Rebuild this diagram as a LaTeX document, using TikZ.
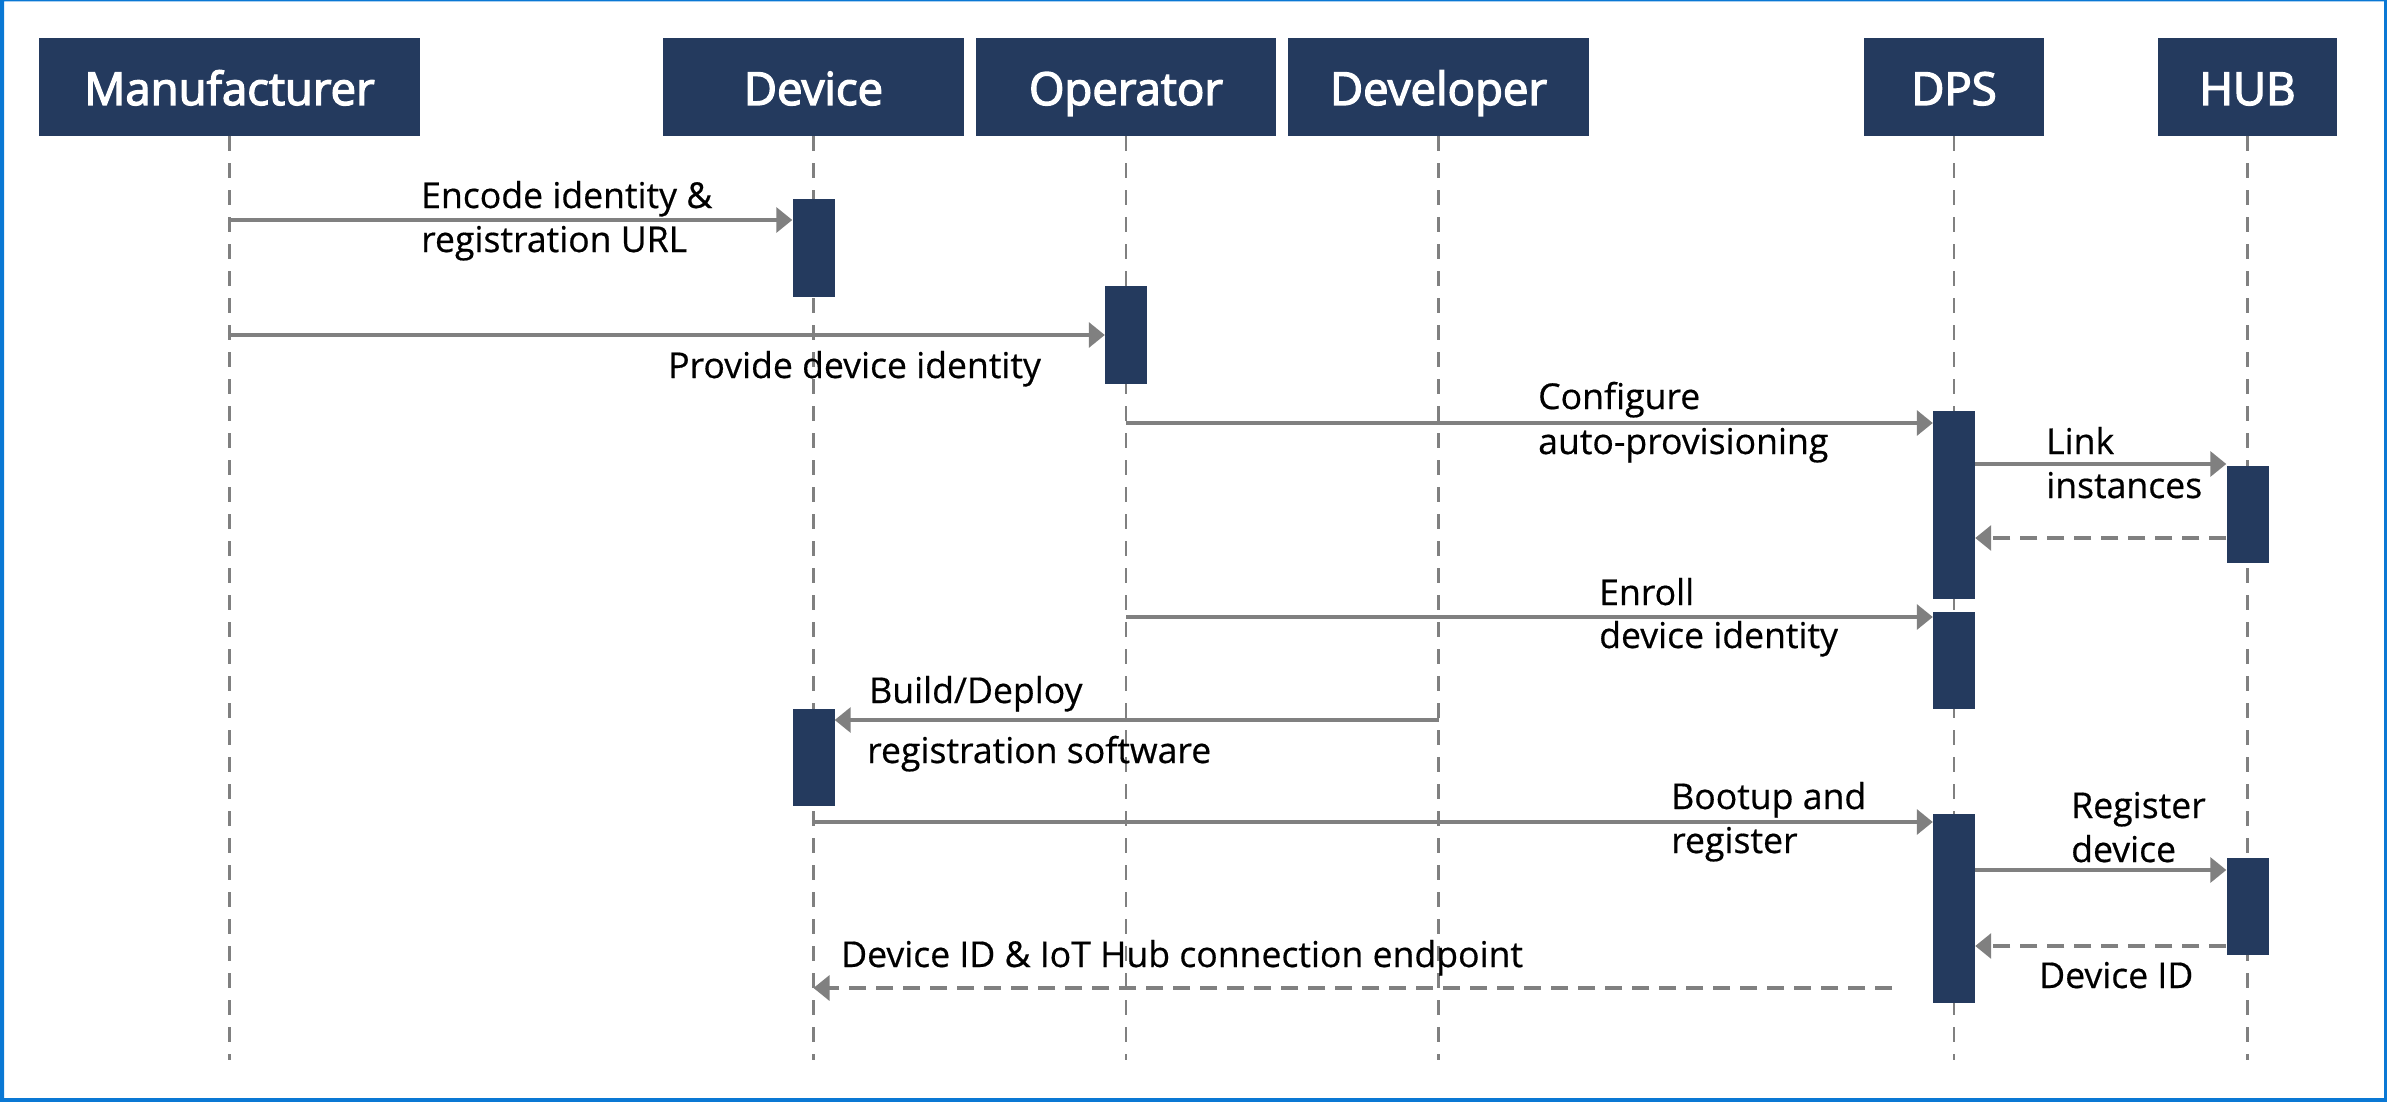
\documentclass[tikz,border=0pt]{standalone}
\usepackage{fontspec}
\setmainfont{Open Sans}
\newfontfamily\actorfont[FakeBold=3]{Open Sans}
\newfontfamily\msgfont[FakeBold=0.5]{Open Sans}
\usetikzlibrary{arrows.meta}
\definecolor{navy}{HTML}{243A5E}
\definecolor{linegray}{HTML}{808080}
\definecolor{frameblue}{HTML}{0A78D4}

\begin{document}
\begin{tikzpicture}[x=1pt,y=-1pt,
  actor/.style={fill=navy, text=white, inner sep=0pt, minimum height=98pt,
    font=\actorfont\fontsize{45.5}{55}\selectfont, text height=36pt, text depth=0pt},
  bar/.style={fill=navy, inner sep=0pt, minimum width=42pt},
  lifeline/.style={draw=linegray, line width=2.8pt, dash pattern=on 15pt off 12pt},
  msg/.style={draw=linegray, line width=3.3pt, -{Triangle[length=16pt,width=25pt]}},
  reply/.style={msg, dash pattern=on 17pt off 10pt},
  lbl/.style={anchor=base west, inner sep=0pt, font=\msgfont\fontsize{35.6}{43}\selectfont},
]
\useasboundingbox (0,0) rectangle (2387,1102);

% outer frame
\fill[frameblue, even odd rule] (0,0) rectangle (2387,1102) (4,1.5) rectangle (2384,1098);

% participants
\node[actor, minimum width=381pt] (man)  at (229.5,87) {Manufacturer};
\node[actor, minimum width=301pt] (dev)  at (813.5,87) {Device};
\node[actor, minimum width=300pt] (opr)  at (1126,87)  {Operator};
\node[actor, minimum width=301pt] (devl) at (1438.5,87) {Developer};
\node[actor, minimum width=180pt] (dps)  at (1954,87)  {DPS};
\node[actor, minimum width=179pt] (hub)  at (2247.5,87) {HUB};

% lifelines
\foreach \p in {man,dev,opr,devl,dps,hub}
  \draw[lifeline] (\p.south) -- (\p.south |- 0,1060);

% activation bars
\node[bar, minimum height=98pt]  (b1) at (dev.south |- 0,248)   {};
\node[bar, minimum height=98pt]  (b2) at (opr.south |- 0,335)   {};
\node[bar, minimum height=188pt] (b3) at (dps.south |- 0,505)   {};
\node[bar, minimum height=97pt]  (b4) at (hub.south |- 0,514.5) {};
\node[bar, minimum height=97pt]  (b5) at (dps.south |- 0,660.5) {};
\node[bar, minimum height=97pt]  (b6) at (dev.south |- 0,757.5) {};
\node[bar, minimum height=189pt] (b7) at (dps.south |- 0,908.5) {};
\node[bar, minimum height=97pt]  (b8) at (hub.south |- 0,906.5) {};

% messages
\draw[msg]   (man.south |- 0,220) -- (b1.west |- 0,220);
\draw[msg]   (man.south |- 0,335) -- (b2.west |- 0,335);
\draw[msg]   (opr.south |- 0,423) -- (b3.west |- 0,423);
\draw[msg]   (b3.east |- 0,464)   -- (b4.west |- 0,464);
\draw[reply] (b4.west |- 0,538)   -- (b3.east |- 0,538);
\draw[msg]   (opr.south |- 0,617) -- (b5.west |- 0,617);
\draw[msg]   (devl.south |- 0,720) -- (b6.east |- 0,720);
\draw[msg]   (dev.south |- 0,822) -- (b7.west |- 0,822);
\draw[msg]   (b7.east |- 0,870)   -- (b8.west |- 0,870);
\draw[reply] (b8.west |- 0,946)   -- (b7.east |- 0,946);
\coordinate (endptstart) at (1892,988);
\draw[reply] (endptstart) -- (dev.south |- 0,988);

% message labels
\node[lbl] (l1a) at (421,208) {Encode identity \&};
\node[lbl] (l1b) at (421,252) {registration URL};
\node[lbl] (l2)  at (668,378) {Provide device identity};
\node[lbl] (l3a) at (1538,409) {Configure};
\node[lbl] (l3b) at (1538,454) {auto-provisioning};
\node[lbl] (l4a) at (2046,454) {Link};
\node[lbl] (l4b) at (2046,498) {instances};
\node[lbl] (l6a) at (1599,605) {Enroll};
\node[lbl] (l6b) at (1599,648) {device identity};
\node[lbl] (l7a) at (869,703) {Build/Deploy};
\node[lbl] (l7b) at (867,763) {registration software};
\node[lbl] (l8a) at (1671,809) {Bootup and};
\node[lbl] (l8b) at (1671,853) {register};
\node[lbl] (l9a) at (2071,818) {Register};
\node[lbl] (l9b) at (2071,862) {device};
\node[lbl] (l10) at (2039,988) {Device ID};
\node[lbl] (l11) at (841,967) {Device ID \& IoT Hub connection endpoint};
\end{tikzpicture}
\end{document}
